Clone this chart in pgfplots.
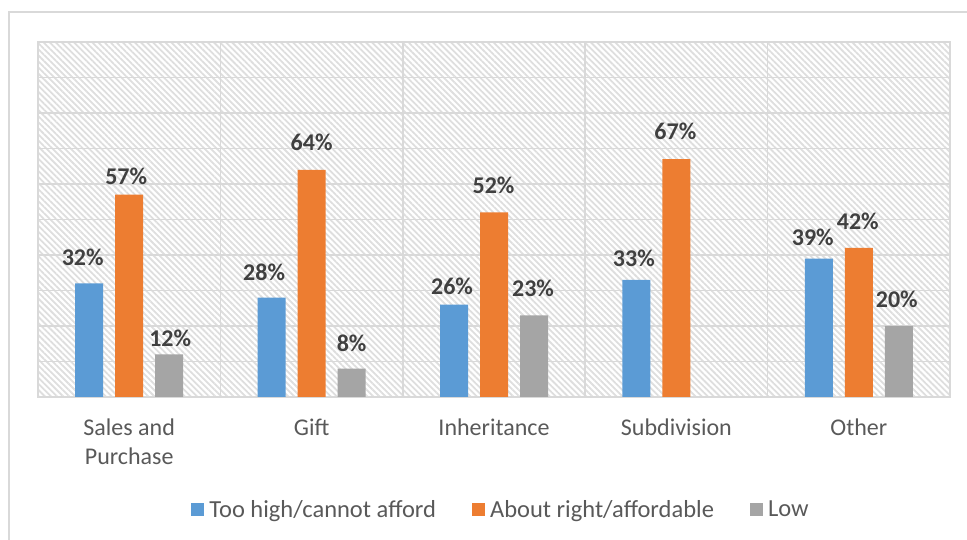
\documentclass[border=0pt]{standalone}
\usepackage{pgfplots}
\pgfplotsset{compat=1.18}
\usetikzlibrary{patterns.meta}
\usepackage{fontspec}
\setmainfont{Carlito}
\definecolor{cblue}{HTML}{5B9BD5}
\definecolor{corange}{HTML}{ED7D31}
\definecolor{cgray}{HTML}{A5A5A5}
\definecolor{gridc}{HTML}{D9D9D9}
\definecolor{hatchc}{HTML}{DEDEDE}
\definecolor{labelc}{HTML}{404040}
\definecolor{tickc}{HTML}{595959}
\begin{document}
\begin{tikzpicture}[x=1pt,y=1pt]
\useasboundingbox (0,0) rectangle (967,540);
\draw[gridc, line width=2pt] (9,-20) -- (9,527.5) -- (990,527.5);
\begin{axis}[
  at={(38pt,143pt)}, anchor=south west,
  width=912pt, height=355pt, scale only axis,
  ybar=12pt, bar width=28pt,
  xmin=-0.5, xmax=4.5, ymin=0, ymax=100,
  enlarge x limits=false,
  xtick={0,1,2,3,4},
  xticklabels={Sales and\\Purchase, Gift, Inheritance, Subdivision, Other},
  minor xtick={-0.5,0.5,1.5,2.5,3.5,4.5},
  xminorgrids=true,
  ytick={0,10,...,100}, yticklabels={},
  ymajorgrids=true,
  major tick length=0pt, minor tick length=0pt,
  grid style={draw=gridc, line width=1.5pt},
  minor grid style={draw=gridc, line width=1.5pt},
  axis line style={draw=gridc, line width=1.5pt},
  axis background/.style={pattern={Lines[angle=-45,distance=4.3pt,line width=1.8pt]}, pattern color=hatchc},
  xticklabel style={font=\fontsize{24}{29}\selectfont, text=tickc, align=center, yshift=-18pt},
  visualization depends on={value \thisrow{dx} \as \labeldx},
  visualization depends on={value \thisrow{dy} \as \labeldy},
  nodes near coords={\pgfmathprintnumber[assume math mode=true]{\pgfplotspointmeta}\%},
  every node near coord/.append style={font=\bfseries\fontsize{24}{29}\selectfont, text=labelc,
    inner sep=0pt, anchor=south, xshift=\labeldx pt, yshift=\labeldy pt},
  legend style={at={(0.5077,-0.318)}, anchor=center, draw=none, fill=none,
    font=\fontsize{24.5}{29}\selectfont, text=tickc, legend columns=3,
    /tikz/every even column/.append style={column sep=34pt}},
  legend image code/.code={\fill[#1] (0pt,-6.5pt) rectangle (13pt,6.5pt); \path (16pt,0pt);},
]
\addplot[fill=cblue, draw=none] table {
x y dx dy
0 32 -6.5 17
1 28 -7.5 17
2 26 -2 10
3 33 -2.5 13
4 39 -6 13
};
\addplot[fill=corange, draw=none] table {
x y dx dy
0 57 -3 10
1 64 0 19
2 52 -0.5 18
3 67 -1 19
4 42 -1 18
};
\addplot[fill=cgray, draw=none] table {
x y dx dy
0 12 1 7
1 8 0 17
2 23 -1 18
4 20 -2 18
};
\legend{Too high/cannot afford, About right/affordable, Low}
\end{axis}
\end{tikzpicture}
\end{document}
